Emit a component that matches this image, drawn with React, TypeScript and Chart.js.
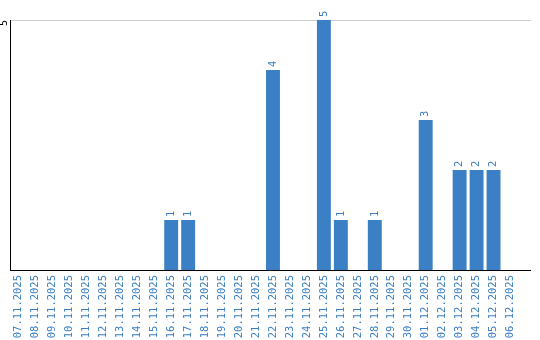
import React, { useEffect, useRef } from "react";
import { Chart, registerables } from "chart.js";

Chart.register(...registerables);

const categories = [
  "07.11.2025", "08.11.2025", "09.11.2025", "10.11.2025", "11.11.2025",
  "12.11.2025", "13.11.2025", "14.11.2025", "15.11.2025", "16.11.2025",
  "17.11.2025", "18.11.2025", "19.11.2025", "20.11.2025", "21.11.2025",
  "22.11.2025", "23.11.2025", "24.11.2025", "25.11.2025", "26.11.2025",
  "27.11.2025", "28.11.2025", "29.11.2025", "30.11.2025", "01.12.2025",
  "02.12.2025", "03.12.2025", "04.12.2025", "05.12.2025", "06.12.2025",
];

const values = [
  0, 0, 0, 0, 0, 0, 0, 0, 0, 1,
  1, 0, 0, 0, 0, 4, 0, 0, 5, 1,
  0, 1, 0, 0, 3, 0, 2, 2, 2, 0,
];

const yTicks = [5];

const BLUE = "#3b7fc4";
const FONT = "'DejaVu Sans Mono', 'Liberation Mono', monospace";

const extrasPlugin = {
  id: "extras",
  beforeDatasetsDraw(chart: any) {
    const { ctx, scales } = chart;
    const y = scales.y;
    ctx.save();
    ctx.strokeStyle = "#cccccc";
    ctx.lineWidth = 1;
    for (const v of yTicks) {
      const py = Math.round(y.getPixelForValue(v)) + 0.5;
      ctx.beginPath();
      ctx.moveTo(chart.chartArea.left + 1, py);
      ctx.lineTo(chart.width - 9, py);
      ctx.stroke();
    }
    // bottom axis line, extended past the last category
    const by = Math.round(y.getPixelForValue(0)) + 0.5;
    ctx.strokeStyle = "#000";
    ctx.beginPath();
    ctx.moveTo(chart.chartArea.left, by);
    ctx.lineTo(chart.width - 9, by);
    ctx.stroke();
    // y tick labels, rotated
    ctx.fillStyle = "#000";
    ctx.font = `10px ${FONT}`;
    ctx.textAlign = "right";
    ctx.textBaseline = "middle";
    for (const v of yTicks) {
      const py = y.getPixelForValue(v);
      ctx.save();
      ctx.translate(4.5, py);
      ctx.rotate(-Math.PI / 2);
      ctx.fillText(String(v), 0, 0);
      ctx.restore();
    }
    ctx.restore();
  },
  afterDatasetsDraw(chart: any) {
    const { ctx } = chart;
    const meta = chart.getDatasetMeta(0);
    const data = chart.data.datasets[0].data;
    ctx.save();
    ctx.fillStyle = BLUE;
    ctx.font = `10.5px ${FONT}`;
    ctx.textAlign = "left";
    ctx.textBaseline = "middle";
    meta.data.forEach((el: any, i: number) => {
      const v = data[i];
      if (!v) return;
      ctx.save();
      ctx.translate(el.x, el.y - 3);
      ctx.rotate(-Math.PI / 2);
      ctx.fillText(String(v), 0, 0);
      ctx.restore();
    });
    ctx.restore();
  },
};

export default function App() {
  const ref = useRef<HTMLCanvasElement | null>(null);

  useEffect(() => {
    document.body.style.margin = "0";
    const chart = new Chart(ref.current!, {
      type: "bar",
      data: {
        labels: categories,
        datasets: [
          {
            data: values,
            backgroundColor: BLUE,
            borderWidth: 0,
            categoryPercentage: 1,
            barPercentage: 0.82,
          },
        ],
      },
      options: {
        animation: false,
        responsive: false,
        maintainAspectRatio: false,
        layout: { padding: { top: 20, right: 21, left: 0, bottom: 0 } },
        plugins: { legend: { display: false }, tooltip: { enabled: false } },
        scales: {
          x: {
            grid: { display: false, drawTicks: false },
            border: { display: false },
            ticks: {
              autoSkip: false,
              minRotation: 90,
              maxRotation: 90,
              padding: 5,
              color: BLUE,
              font: { family: FONT, size: 10.5 },
            },
            afterFit: (s: any) => {
              s.height = 70;
            },
          },
          y: {
            min: 0,
            max: 5,
            grid: { display: false, drawTicks: false },
            border: { display: true, color: "#000", width: 1 },
            afterBuildTicks: (s: any) => {
              s.ticks = yTicks.map((v) => ({ value: v }));
            },
            ticks: { display: false },
            afterFit: (s: any) => {
              s.width = 10;
            },
          },
        },
      },
      plugins: [extrasPlugin],
    });
    return () => chart.destroy();
  }, []);

  return (
    <div style={{ position: "absolute", left: 0, top: 0, width: 540, height: 340 }}>
      <canvas ref={ref} width={540} height={340} />
    </div>
  );
}
